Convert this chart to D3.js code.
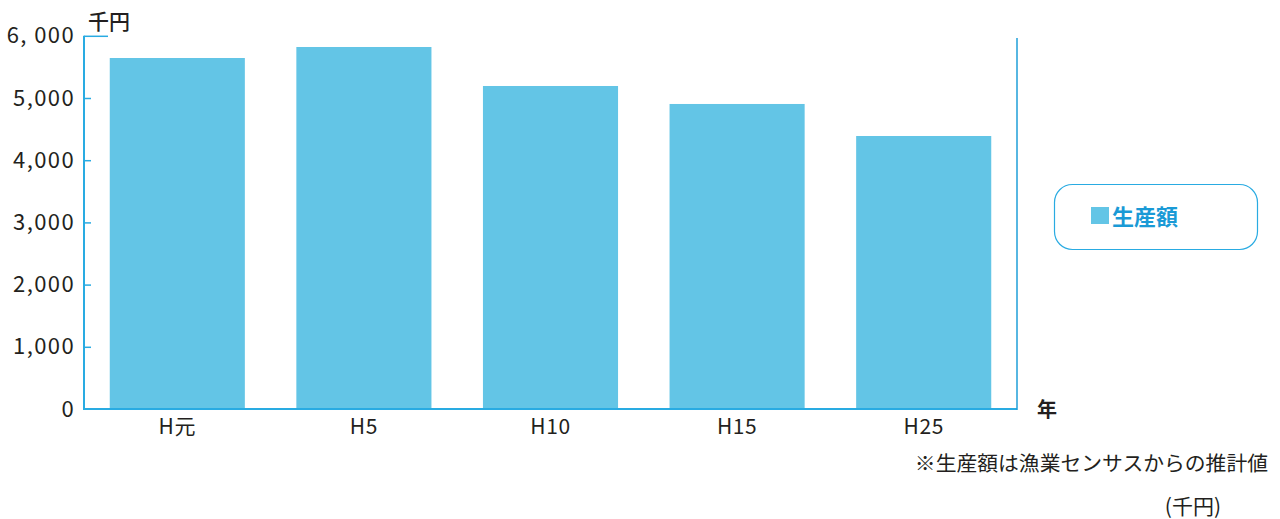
<!DOCTYPE html>
<html>
<head>
<meta charset="utf-8">
<script src="https://cdn.jsdelivr.net/npm/d3@7"></script>
<style>
  body { margin: 0; background: #fff; }
  svg { display: block; font-family: "Noto Sans CJK JP", "Noto Sans", sans-serif; }
  .axis text { fill: #231f20; font-family: "Noto Sans CJK JP", "Noto Sans", sans-serif; }
  .y-axis text { font-size: 22px; letter-spacing: 1.4px; }
  .x-axis text { font-size: 21px; font-weight: 400; letter-spacing: 0.6px; }
</style>
</head>
<body>
<svg id="chart"></svg>
<script>
// data (千円)
const years = ['H元', 'H5', 'H10', 'H15', 'H25'];
const values = [5643, 5820, 5193, 4904, 4389];
const yTicks = [0, 1000, 2000, 3000, 4000, 5000, 6000];
const yTickLabels = ['0', '1,000', '2,000', '3,000', '4,000', '5,000', '6, 000'];

const W = 1280, H = 519;
const axisColor = '#29abe2';
const barColor = '#63c5e6';

const svg = d3.select('#chart').attr('width', W).attr('height', H);

const x = d3.scaleBand()
  .domain(years)
  .range([84, 1017])
  .paddingInner(0.276)
  .paddingOuter(0.138);

const y = d3.scaleLinear()
  .domain([0, 6000])
  .range([409, 35.8]);

// bars
svg.append('g').selectAll('rect')
  .data(values)
  .join('rect')
  .attr('x', (d, i) => x(years[i]))
  .attr('y', d => y(d))
  .attr('width', x.bandwidth())
  .attr('height', d => y(0) - y(d))
  .attr('fill', barColor);

// left axis
const yAxis = d3.axisLeft(y)
  .tickValues(yTicks)
  .tickSize(-7)
  .tickPadding(9)
  .tickFormat((d, i) => yTickLabels[i]);

const yg = svg.append('g')
  .attr('class', 'axis y-axis')
  .attr('transform', 'translate(84,0)')
  .call(yAxis);
yg.attr('font-family', null).attr('font-size', null);
yg.select('.domain').remove();
yg.selectAll('.tick line').attr('stroke', axisColor).attr('stroke-width', 1.5)
  .attr('x2', d => d === 6000 ? 24 : 7);
yg.selectAll('.tick').filter(d => d === 0).select('line').remove();

// axis frame lines
svg.append('line')
  .attr('x1', 84).attr('x2', 84)
  .attr('y1', y(6000)).attr('y2', y(0))
  .attr('stroke', axisColor).attr('stroke-width', 2);
svg.append('line')
  .attr('x1', 83).attr('x2', 1017)
  .attr('y1', y(0)).attr('y2', y(0))
  .attr('stroke', axisColor).attr('stroke-width', 2);
svg.append('line')
  .attr('x1', 1017).attr('x2', 1017)
  .attr('y1', 38).attr('y2', y(0) + 1)
  .attr('stroke', '#1f9fd8').attr('stroke-width', 1.5);

// x labels
const xAxis = d3.axisBottom(x).tickSize(0).tickPadding(10);
const xg = svg.append('g')
  .attr('class', 'axis x-axis')
  .attr('transform', `translate(0,${y(0)})`)
  .call(xAxis);
xg.attr('font-family', null).attr('font-size', null);
xg.select('.domain').remove();

// unit labels
svg.append('text')
  .attr('x', 88).attr('y', 29)
  .attr('fill', '#231f20').attr('font-size', 21).attr('font-weight', 500)
  .text('千円');
svg.append('text')
  .attr('x', 1037).attr('y', 417)
  .attr('fill', '#231f20').attr('font-size', 20).attr('font-weight', 700)
  .text('年');

// legend
const lg = svg.append('g');
lg.append('rect')
  .attr('x', 1054.5).attr('y', 184.5)
  .attr('width', 203).attr('height', 65)
  .attr('rx', 18).attr('ry', 18)
  .attr('fill', '#fff').attr('stroke', axisColor).attr('stroke-width', 1.2);
lg.append('rect')
  .attr('x', 1091).attr('y', 207)
  .attr('width', 18).attr('height', 17)
  .attr('fill', barColor);
lg.append('text')
  .attr('x', 1112).attr('y', 225)
  .attr('fill', '#1a9ad6').attr('font-size', 22).attr('font-weight', 700)
  .text('生産額');

// notes
svg.append('text')
  .attr('x', 1268).attr('y', 471)
  .attr('text-anchor', 'end')
  .attr('fill', '#231f20').attr('font-size', 20.8)
  .text('※生産額は漁業センサスからの推計値');
svg.append('text')
  .attr('x', 1221).attr('y', 514)
  .attr('text-anchor', 'end')
  .attr('fill', '#231f20').attr('font-size', 21)
  .text('(千円)');
</script>
</body>
</html>
